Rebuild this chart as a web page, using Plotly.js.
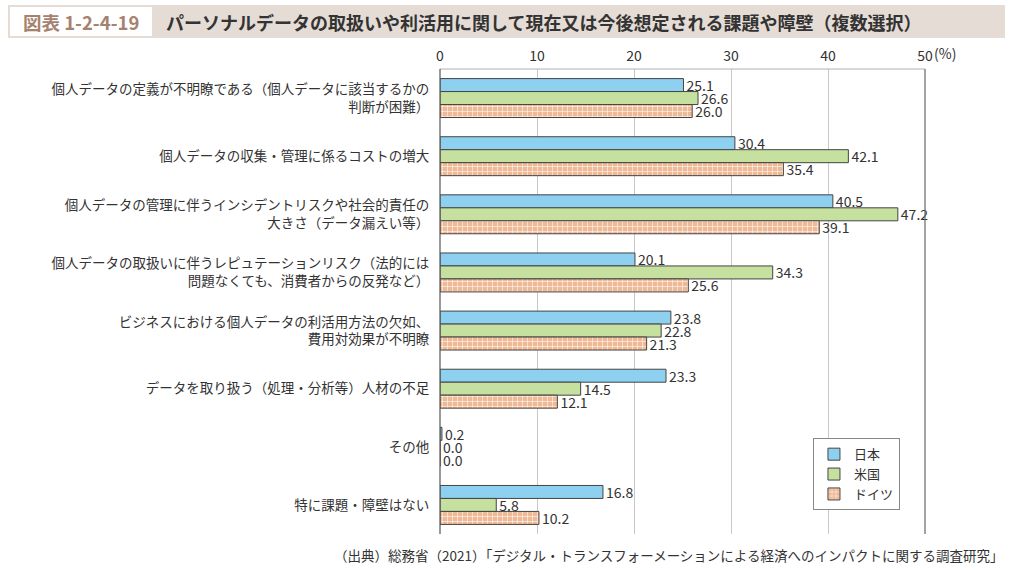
<!DOCTYPE html>
<html>
<head>
<meta charset="utf-8">
<script src="https://cdn.plot.ly/plotly-3.0.1.min.js"></script>
<style>
html,body{margin:0;padding:0;background:#fff;}
#chart{width:1015px;height:570px;}
</style>
</head>
<body>
<div id="chart"></div>
<script>
const categories = [
  "個人データの定義が不明瞭である（個人データに該当するかの<br>判断が困難）",
  "個人データの収集・管理に係るコストの増大",
  "個人データの管理に伴うインシデントリスクや社会的責任の<br>大きさ（データ漏えい等）",
  "個人データの取扱いに伴うレピュテーションリスク（法的には<br>問題なくても、消費者からの反発など）",
  "ビジネスにおける個人データの利活用方法の欠如、<br>費用対効果が不明瞭",
  "データを取り扱う（処理・分析等）人材の不足",
  "その他",
  "特に課題・障壁はない"
];
const seriesNames = ["日本", "米国", "ドイツ"];
const japan   = [25.1, 30.4, 40.5, 20.1, 23.8, 23.3, 0.2, 16.8];
const usa     = [26.6, 42.1, 47.2, 34.3, 22.8, 14.5, 0.0, 5.8];
const germany = [26.0, 35.4, 39.1, 25.6, 21.3, 12.1, 0.0, 10.2];
const xTicks = [0, 10, 20, 30, 40, 50];

const FONT = '"Noto Sans CJK JP", "Noto Sans", sans-serif';
const lineStyle = {color: '#444', width: 1};

function barTrace(name, values, marker) {
  return {
    type: 'bar', orientation: 'h', name: name,
    x: values, y: categories,
    marker: marker,
    text: values.map(v => v.toFixed(1)),
    textposition: 'outside',
    constraintext: 'none',
    textfont: {family: FONT, size: 14, color: '#333'},
    cliponaxis: false,
    hoverinfo: 'skip'
  };
}

const data = [
  barTrace(seriesNames[0], japan, {color: '#8dd0ef', line: lineStyle}),
  barTrace(seriesNames[1], usa, {color: '#c6e19f', line: lineStyle}),
  barTrace(seriesNames[2], germany, {color: '#f0b995', line: lineStyle,
    pattern: {shape: '+', fgcolor: '#ffffff', bgcolor: '#f0b995', size: 5, solidity: 0.2}})
];

const layout = {
  width: 1015, height: 570,
  margin: {l: 440, r: 90, t: 69, b: 36},
  paper_bgcolor: '#ffffff', plot_bgcolor: '#ffffff',
  font: {family: FONT, color: '#333', size: 13},
  barmode: 'group',
  bargap: 0.33, bargroupgap: 0,
  showlegend: true,
  legend: {
    x: 0.769, y: 0.206, xanchor: 'left', yanchor: 'top',
    bgcolor: '#ffffff', bordercolor: '#888', borderwidth: 1,
    font: {family: FONT, size: 13, color: '#333'},
    traceorder: 'normal', tracegroupgap: 0, itemwidth: 30
  },
  xaxis: {
    side: 'top', range: [0, 50], tickvals: xTicks,
    ticktext: xTicks.map(String),
    showgrid: true, gridcolor: '#c8c8c8', gridwidth: 1,
    zeroline: false, showline: false,
    ticks: '', ticklabelstandoff: 4,
    tickfont: {family: FONT, size: 14, color: '#333'},
    fixedrange: true
  },
  yaxis: {
    autorange: 'reversed', type: 'category',
    showgrid: false, zeroline: false, showline: false,
    ticks: 'outside', ticklen: 7, tickcolor: 'rgba(0,0,0,0)',
    tickfont: {family: FONT, size: 13.5, color: '#333'},
    fixedrange: true
  },
  shapes: [
    {type: 'rect', xref: 'paper', yref: 'paper', x0: -432/485, x1: 565/485,
     y0: 1 + 31/465, y1: 1 + 64/465, fillcolor: '#e6dcd6', line: {width: 0}, layer: 'below'},
    {type: 'rect', xref: 'paper', yref: 'paper', x0: -430/485, x1: -288/485,
     y0: 1 + 33/465, y1: 1 + 62/465, fillcolor: '#ffffff', line: {width: 0}, layer: 'below'},
    {type: 'line', xref: 'paper', yref: 'paper', x0: 0, x1: 1, y0: 1, y1: 1,
     line: {color: '#b0b0b0', width: 1}},
    {type: 'line', xref: 'paper', yref: 'paper', x0: 0, x1: 0, y0: 0, y1: 1,
     line: {color: '#555', width: 1.2}},
    {type: 'line', xref: 'paper', yref: 'paper', x0: 1, x1: 1, y0: 0, y1: 1,
     line: {color: '#666', width: 1.2}}
  ],
  annotations: [
    {xref: 'paper', yref: 'paper', x: -359/485, y: 1 + 47/465, xanchor: 'center', yanchor: 'middle',
     text: '<b>図表 1-2-4-19</b>', showarrow: false,
     font: {family: FONT, size: 18.5, color: '#a5826f'}},
    {xref: 'paper', yref: 'paper', x: -276/485, y: 1 + 47/465, xanchor: 'left', yanchor: 'middle',
     text: '<b>パーソナルデータの取扱いや利活用に関して現在又は今後想定される課題や障壁（複数選択）</b>',
     showarrow: false, font: {family: FONT, size: 18, color: '#333'}},
    {xref: 'paper', yref: 'paper', x: 1, y: 1, xshift: 7, yshift: 4, xanchor: 'left', yanchor: 'bottom',
     text: '(%)', showarrow: false, font: {family: FONT, size: 14, color: '#333'}},
    {xref: 'paper', yref: 'paper', x: 1 + 80/485, y: -21/465, xanchor: 'right', yanchor: 'middle',
     text: '（出典）総務省（2021）「デジタル・トランスフォーメーションによる経済へのインパクトに関する調査研究」',
     showarrow: false, font: {family: FONT, size: 13.5, color: '#333'}}
  ]
};

Plotly.newPlot('chart', data, layout, {displayModeBar: false, staticPlot: true});
</script>
</body>
</html>
